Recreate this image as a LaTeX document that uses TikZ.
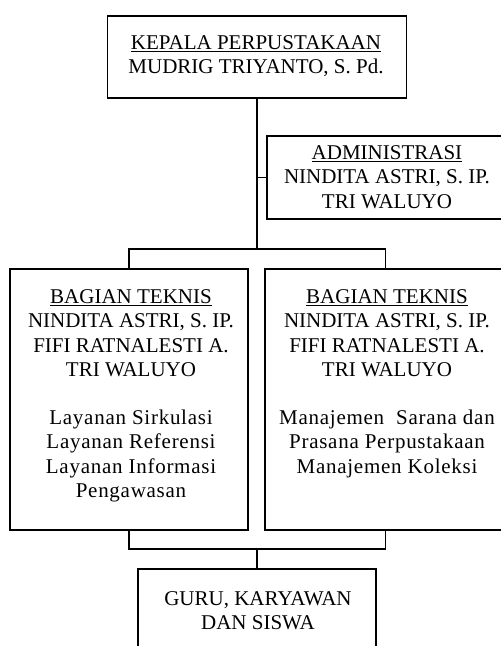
\documentclass[tikz,border=0pt]{standalone}
\usepackage{fontspec}
\setmainfont{Liberation Serif}
\newfontfamily\spacedfont[LetterSpace=3.5]{Liberation Serif}
\begin{document}
\begin{tikzpicture}[x=1pt,y=-1pt,
  box/.style={draw, line width=1.8pt, rectangle, inner sep=0pt},
  txt/.style={align=center, inner sep=0pt, anchor=north, font=\fontsize{21}{24.2}\selectfont},
  conn/.style={line width=1.8pt}]
\useasboundingbox (0,0) rectangle (501,646);
\clip (0,0) rectangle (501,646);
\node[box, minimum width=299pt, minimum height=82pt] (kepala) at (257,57) {};
\node[box, minimum width=243pt, minimum height=83pt] (admin) at (388.5,177.5) {};
\node[box, minimum width=238pt, minimum height=261pt] (left) at (129,399.5) {};
\node[box, minimum width=241pt, minimum height=261pt] (right) at (385.5,399.5) {};
\node[box, minimum width=238pt, minimum height=101pt] (bottom) at (257,619.5) {};

\node[txt] (t1) at (256,35.2) {\underline{KEPALA PERPUSTAKAAN}\\MUDRIG TRIYANTO, S. Pd.};
\node[txt] (t2) at (387,145.5) {\underline{ADMINISTRASI}\\NINDITA ASTRI, S. IP.\\TRI WALUYO};
\node[txt] (t3) at (131,289.5) {\underline{BAGIAN TEKNIS}\\NINDITA ASTRI, S. IP.\\FIFI RATNALESTI A.\\TRI WALUYO\\[24.2pt]{\spacedfont Layanan Sirkulasi}\\{\spacedfont Layanan Referensi}\\{\spacedfont Layanan Informasi}\\{\spacedfont Pengawasan}};
\node[txt] (t4) at (387,289.5) {\underline{BAGIAN TEKNIS}\\NINDITA ASTRI, S. IP.\\FIFI RATNALESTI A.\\TRI WALUYO\\[24.2pt]{\spacedfont Manajemen~ Sarana dan}\\{\spacedfont Prasana Perpustakaan}\\{\spacedfont Manajemen Koleksi}};
\node[txt] (t5) at (258,591.2) {GURU, KARYAWAN\\DAN SISWA};

\coordinate (jtop) at (257,249);
\coordinate (jbot) at (257,549);
\draw[conn] (kepala.south) -- (jtop);
\draw[conn] (kepala.south |- admin.west) -- (admin.west);
\draw[conn] (left.north) |- (jtop) -| (right.north);
\draw[conn] (left.south) |- (jbot) -| (right.south);
\draw[conn] (jbot) -- (bottom.north);
\end{tikzpicture}
\end{document}
